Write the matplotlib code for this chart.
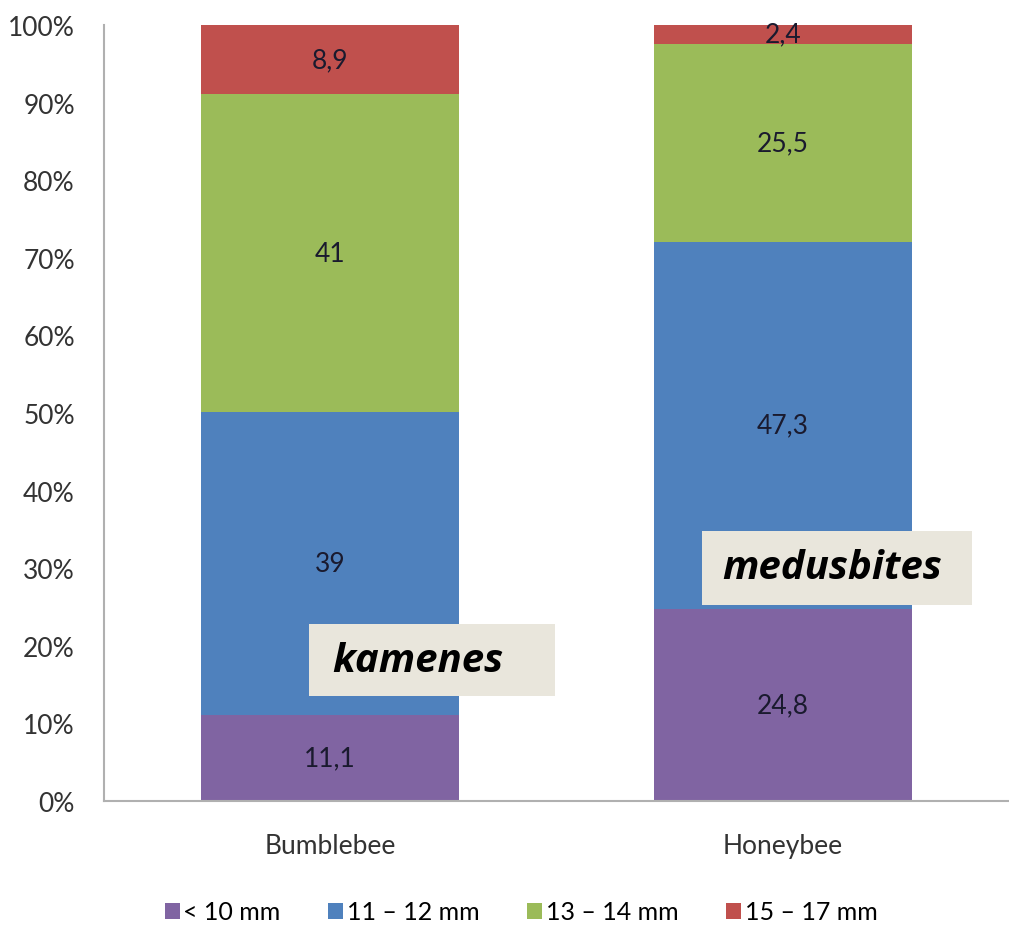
import matplotlib
matplotlib.use("Agg")
import matplotlib.pyplot as plt
from matplotlib.patches import Rectangle
import numpy as np

categories = ["Bumblebee", "Honeybee"]
series_names = ["< 10 mm", "11 – 12 mm", "13 – 14 mm", "15 – 17 mm"]
lt10 = [11.1, 24.8]
mm11_12 = [39, 47.3]
mm13_14 = [41, 25.5]
mm15_17 = [8.9, 2.4]
labels_lt10 = ["11,1", "24,8"]
labels_11_12 = ["39", "47,3"]
labels_13_14 = ["41", "25,5"]
labels_15_17 = ["8,9", "2,4"]
colors = ["#8064A2", "#4F81BD", "#9BBB59", "#C0504D"]
ytick_vals = list(range(0, 101, 10))

plt.rcParams['font.family'] = ['Lato', 'DejaVu Sans']

W, H = 1009, 928
fig = plt.figure(figsize=(W/100, H/100), dpi=100)
ax = fig.add_axes([104/W, (H-802)/H, 1 - 104/W, (802-26)/H])

x = np.arange(len(categories))
bottom = np.zeros(len(categories))
all_series = [lt10, mm11_12, mm13_14, mm15_17]
all_labels = [labels_lt10, labels_11_12, labels_13_14, labels_15_17]
handles = []
for vals, labs, col, name in zip(all_series, all_labels, colors, series_names):
    vals = np.array(vals, dtype=float)
    b = ax.bar(x, vals, 0.57, bottom=bottom, color=col, label=name)
    handles.append(b)
    for xi, v, bt, lab in zip(x, vals, bottom, labs):
        ax.text(xi, bt + v/2, lab, ha='center', va='center', fontsize=19, color='#1a1a2e')
    bottom += vals

ax.set_xlim(-0.5, 1.5)
ax.set_ylim(0, 100)
ax.set_yticks(ytick_vals)
ax.set_yticklabels([f"{v}%" for v in ytick_vals], fontsize=19, color='#333333')
ax.set_xticks(x)
ax.set_xticklabels(categories, fontsize=19, color='#333333')
ax.tick_params(axis='y', length=0, pad=21)
ax.tick_params(axis='x', length=0, pad=23)
for s in ['top', 'right']:
    ax.spines[s].set_visible(False)
for s in ['left', 'bottom']:
    ax.spines[s].set_color('#b0b0b0')
    ax.spines[s].set_linewidth(1.5)

fig.legend(handles=handles, labels=series_names, loc='center', bbox_to_anchor=(521/W, 1 - 913/H),
           ncol=4, frameon=False, fontsize=18, handlelength=0.6, handleheight=0.6,
           handletextpad=0.15, columnspacing=1.9)

box_col = '#E9E6DC'
# kamenes box
fig.add_artist(Rectangle((309/W, 1 - 697/H), (555-309)/W, (697-625)/H,
                         transform=fig.transFigure, facecolor=box_col, edgecolor='none'))
fig.text(332/W, 1 - 662/H, "kamenes", fontsize=29, fontweight='bold', fontstyle='italic',
         ha='left', va='center', family=['Open Sans', 'DejaVu Sans'])
# medusbites box
fig.add_artist(Rectangle((702/W, 1 - 606/H), (972-702)/W, (606-532)/H,
                         transform=fig.transFigure, facecolor=box_col, edgecolor='none'))
fig.text(722/W, 1 - 569/H, "medusbites", fontsize=29, fontweight='bold', fontstyle='italic',
         ha='left', va='center', family=['Open Sans', 'DejaVu Sans'])

fig.savefig("out.png", dpi=100)
